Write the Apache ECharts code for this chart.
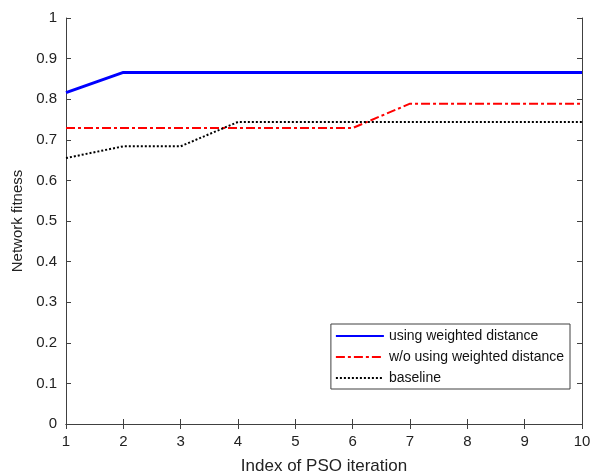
<!DOCTYPE html>
<html>
<head>
<meta charset="utf-8">
<script src="https://cdn.jsdelivr.net/npm/echarts@6/dist/echarts.min.js"></script>
<style>
  html, body { margin: 0; padding: 0; background: #fff; }
  #chart { width: 594px; height: 473px; }
</style>
</head>
<body>
<div id="chart"></div>
<script>
// values
const iterations = [1, 2, 3, 4, 5, 6, 7, 8, 9, 10];
const weighted = [0.816, 0.866, 0.866, 0.866, 0.866, 0.866, 0.866, 0.866, 0.866, 0.866];
const noWeighted = [0.729, 0.729, 0.729, 0.729, 0.729, 0.729, 0.789, 0.789, 0.789, 0.789];
const baseline = [0.655, 0.684, 0.684, 0.744, 0.744, 0.744, 0.744, 0.744, 0.744, 0.744];
const seriesNames = ['using weighted distance', 'w/o using weighted distance', 'baseline'];

const axisColor = '#404040';
const font = 'Liberation Sans, Arial, sans-serif';

const chart = echarts.init(document.getElementById('chart'));

function pairs(vals) {
  return iterations.map((x, i) => [x, vals[i]]);
}

const option = {
  animation: false,
  textStyle: { fontFamily: font },
  grid: { left: 66, right: 12, top: 18, bottom: 49, outerBoundsMode: 'none', containLabel: false },
  legend: {
    orient: 'vertical',
    right: 24,
    top: 324,
    data: seriesNames,
    backgroundColor: '#fff',
    borderColor: axisColor,
    borderWidth: 1,
    borderRadius: 0,
    padding: [5, 6, 4, 4],
    itemGap: 7,
    itemWidth: 48,
    itemHeight: 14,
    itemStyle: { opacity: 0 },
    textStyle: { fontSize: 14, color: '#111' }
  },
  xAxis: [
    {
      type: 'value', min: 1, max: 10, interval: 1,
      name: 'Index of PSO iteration', nameLocation: 'middle', nameGap: 34,
      nameTextStyle: { fontSize: 17, color: '#222' },
      axisLine: { lineStyle: { color: axisColor } },
      axisTick: { inside: true, length: 5, lineStyle: { color: axisColor } },
      axisLabel: { fontSize: 15, color: '#222', margin: 10 },
      splitLine: { show: false }
    },
    {
      type: 'value', min: 1, max: 10, interval: 1, position: 'top',
      axisLine: { show: true, lineStyle: { color: axisColor } },
      axisTick: { inside: true, length: 5, lineStyle: { color: axisColor } },
      axisLabel: { show: false },
      splitLine: { show: false }
    }
  ],
  yAxis: [
    {
      type: 'value', min: 0, max: 1, interval: 0.1,
      name: 'Network fitness', nameLocation: 'middle', nameGap: 35,
      nameTextStyle: { fontSize: 15, color: '#222' },
      axisLine: { show: true, lineStyle: { color: axisColor } },
      axisTick: { show: true, inside: true, length: 5, lineStyle: { color: axisColor } },
      axisLabel: { fontSize: 15, color: '#222', margin: 9 },
      splitLine: { show: false }
    },
    {
      type: 'value', min: 0, max: 1, interval: 0.1, position: 'right',
      axisLine: { show: true, lineStyle: { color: axisColor } },
      axisTick: { show: true, inside: true, length: 5, lineStyle: { color: axisColor } },
      axisLabel: { show: false },
      splitLine: { show: false }
    }
  ],
  series: [
    {
      name: seriesNames[0], type: 'line', symbol: 'none',
      color: '#0000ff',
      lineStyle: { width: 3, color: '#0000ff' },
      data: pairs(weighted)
    },
    {
      name: seriesNames[1], type: 'line', symbol: 'none',
      color: '#ff0000',
      lineStyle: { width: 2, color: '#ff0000', type: [9, 3, 3, 3] },
      data: pairs(noWeighted)
    },
    {
      name: seriesNames[2], type: 'line', symbol: 'none',
      color: '#000000',
      lineStyle: { width: 2, color: '#000000', type: [2, 2] },
      data: pairs(baseline)
    }
  ]
};

chart.setOption(option);
</script>
</body>
</html>
